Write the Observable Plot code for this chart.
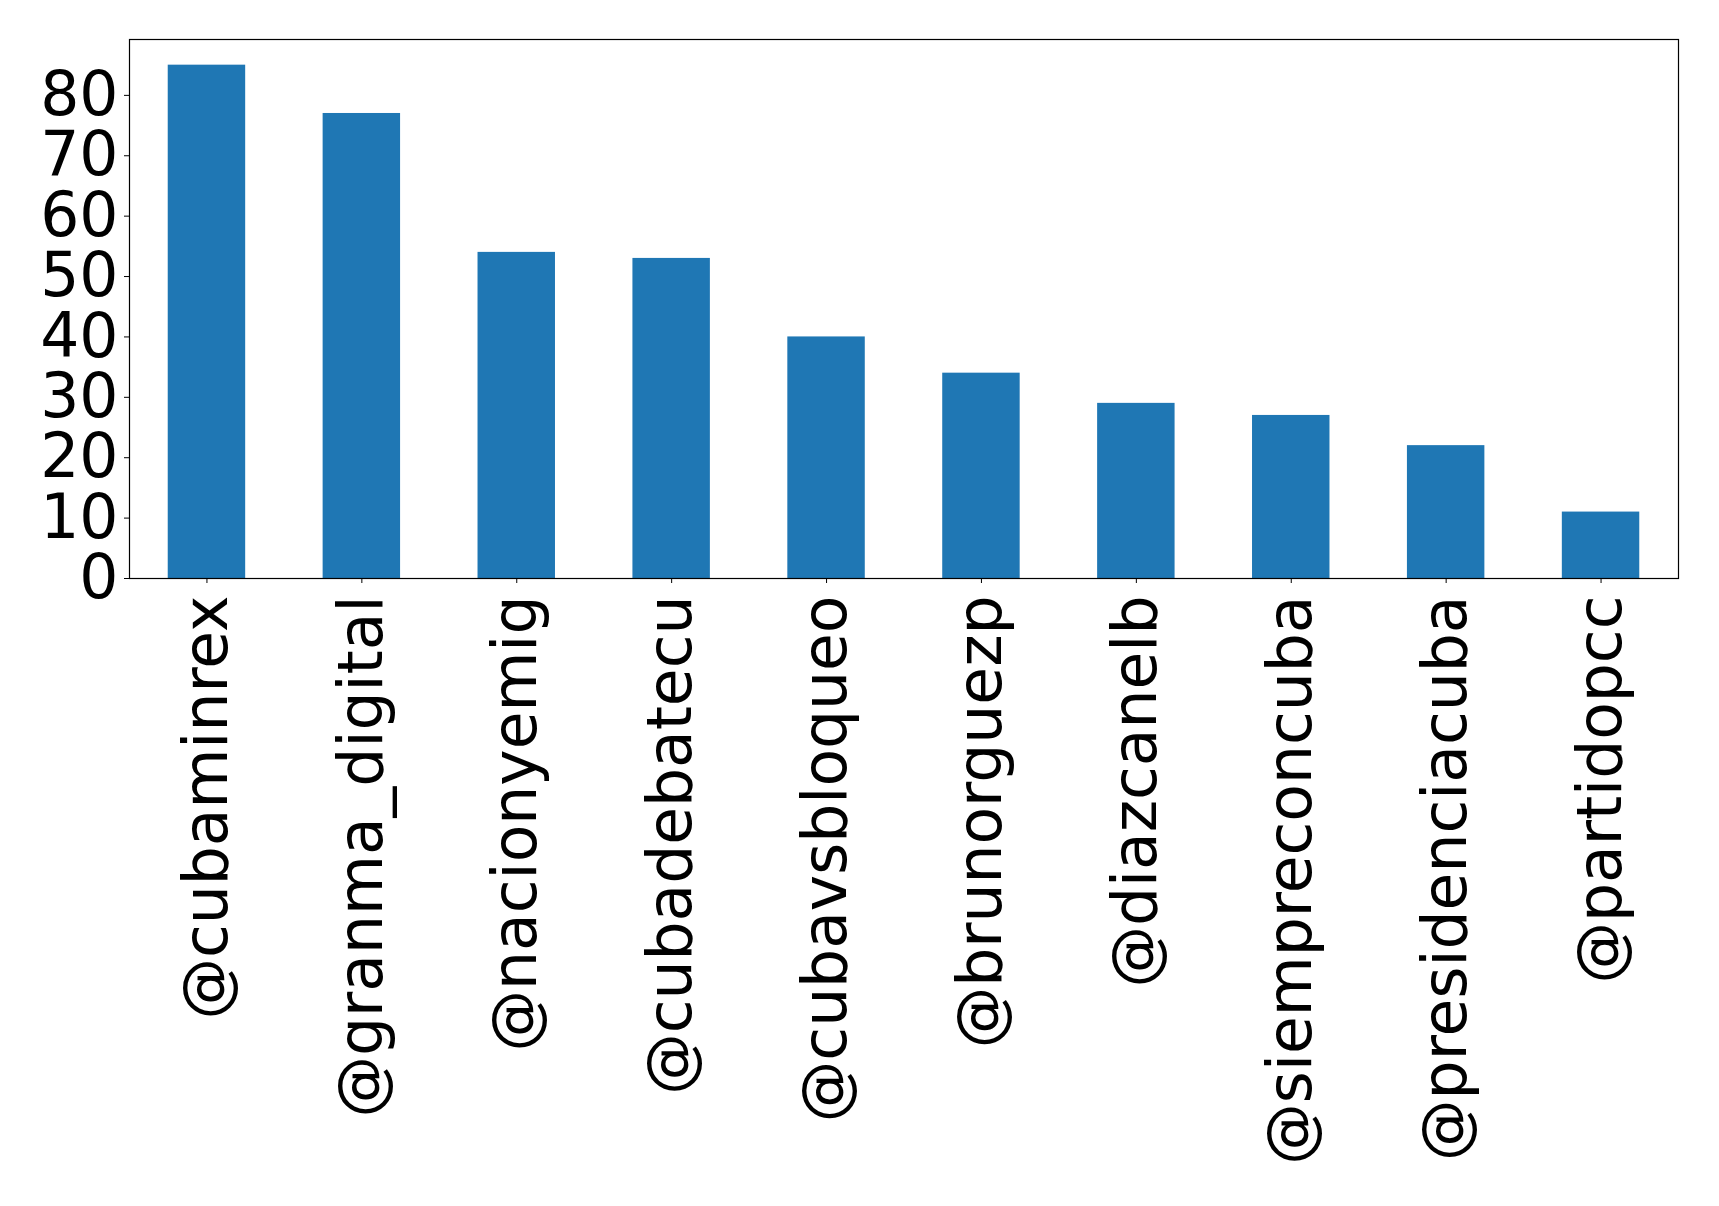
<!DOCTYPE html>
<html>
<head>
<meta charset="utf-8">
<script src="https://cdn.jsdelivr.net/npm/d3@7"></script>
<script src="https://cdn.jsdelivr.net/npm/@observablehq/plot@0.6"></script>
<style>
  html, body { margin: 0; padding: 0; background: #fff; }
  #chart svg { display: block; }
</style>
</head>
<body>
<div id="chart"></div>
<script>
const accounts = ["@cubaminrex", "@granma_digital", "@nacionyemig", "@cubadebatecu", "@cubavsbloqueo", "@brunorguezp", "@diazcanelb", "@siempreconcuba", "@presidenciacuba", "@partidopcc"];
const counts = [85, 77, 54, 53, 40, 34, 29, 27, 22, 11];
const yTicks = [0, 10, 20, 30, 40, 50, 60, 70, 80];

const data = accounts.map((a, i) => ({account: a, count: counts[i]}));
const fs = 61.5;

const chart = Plot.plot({
  width: 1719,
  height: 1206,
  marginLeft: 129,
  marginRight: 41,
  marginTop: 39,
  marginBottom: 628,
  style: {fontFamily: "DejaVu Sans", background: "#fff", color: "#000"},
  x: {domain: accounts, paddingInner: 0.5, paddingOuter: 0.25, round: false, axis: null},
  y: {domain: [0, 89.25], axis: null},
  marks: [
    Plot.barY(data, {x: "account", y: "count", fill: "#1f77b4"}),
    Plot.frame({stroke: "#000", strokeWidth: 1.2}),
    Plot.axisY({ticks: yTicks, tickSize: 5, tickPadding: 6, fontSize: fs, label: null, stroke: "#000", color: "#000"}),
    Plot.axisX({tickSize: 5, tickPadding: 12, fontSize: fs, tickRotate: -90, label: null, color: "#000"})
  ]
});
document.getElementById("chart").appendChild(chart);
</script>
</body>
</html>
